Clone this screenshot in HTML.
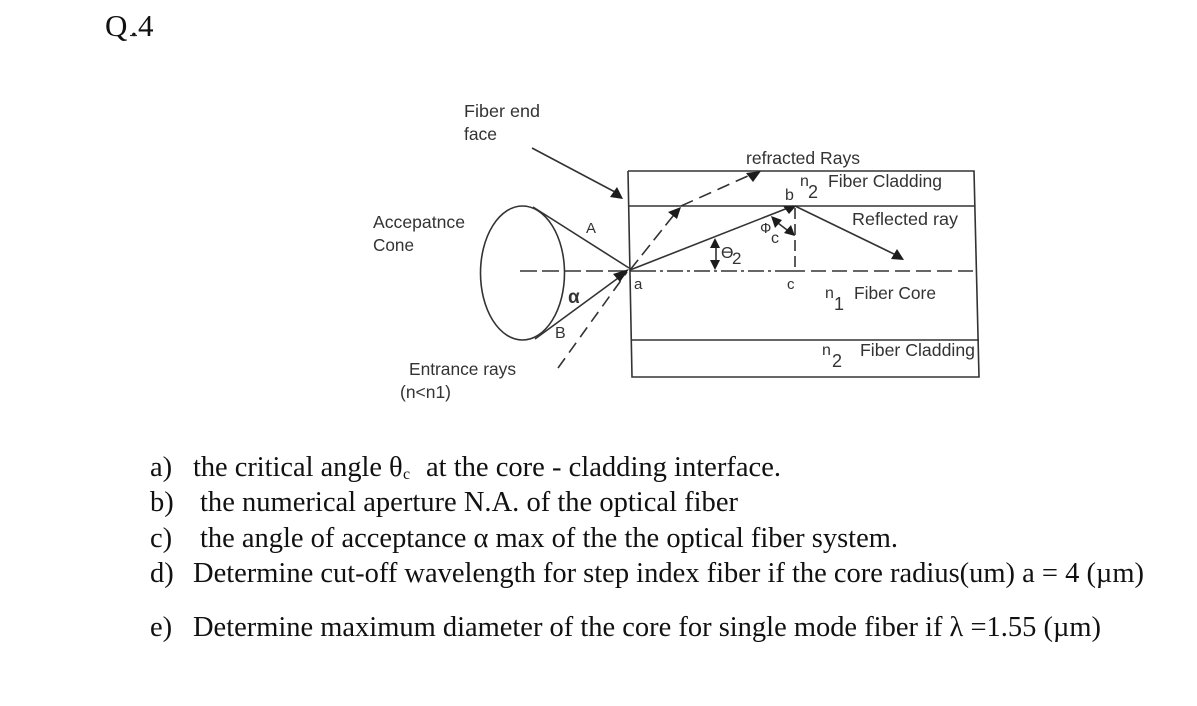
<!DOCTYPE html>
<html>
<head>
<meta charset="utf-8">
<style>
html,body{margin:0;padding:0;background:#fff;width:1197px;height:706px;overflow:hidden}
svg{display:block;filter:blur(0.35px)}
.d{font-family:"Liberation Sans",sans-serif;font-size:17.5px;fill:#333}
.s{font-family:"Liberation Serif",serif;font-size:28.5px;fill:#111}
</style>
</head>
<body>
<svg width="1197" height="706" viewBox="0 0 1197 706" xmlns="http://www.w3.org/2000/svg">
<rect width="1197" height="706" fill="#fff"/>
<text x="105 130 138" y="36" font-family="Liberation Serif,serif" font-size="31" fill="#111">Q.4</text>
<path d="M130 35.5H137" stroke="#222" stroke-width="1.2"/>

<g fill="none" stroke="#333" stroke-width="1.6">
  <ellipse cx="522.5" cy="273" rx="42" ry="67"/>
  <path d="M533 207L629 268"/>
  <path d="M535 339L625 273"/>
  <path d="M532 148L615 192"/>
  <path d="M628 171H974L979 377H632L628 171"/>
  <path d="M628 206H975"/>
  <path d="M632 340H979"/>
  <path d="M630 270L793 206"/>
  <path d="M795 206L896 255"/>
  <path d="M520 271H640" stroke-dasharray="17 5"/>
  <path d="M640 271H790" stroke-dasharray="16 4 3 4"/>
  <path d="M790 271H975" stroke-dasharray="15 6"/>
  <path d="M558 368L627 272" stroke-dasharray="12 7"/>
  <path d="M630 270L677 211" stroke-dasharray="13 6"/>
  <path d="M681 206L750 175" stroke-dasharray="13 7"/>
  <path d="M795 208V270" stroke-dasharray="11 5"/>
  <path d="M716 243V265"/>
  <path d="M774 220L791 233"/>
</g>
<g fill="#1c1c1c">
  <path d="M623 199L610 197L617 187Z"/>
  <path d="M629 269L620 282L613 274Z"/>
  <path d="M681 207L677 219L668 212Z"/>
  <path d="M761 171L753 182L746 173Z"/>
  <path d="M789 214L783 206H796Z"/>
  <path d="M904 260L891 259L897 249Z"/>
  <path d="M715 238L720 248H710Z"/>
  <path d="M715 270L710 260H720Z"/>
  <path d="M771 216L782 220L775 228Z"/>
  <path d="M795 236L784 233L791 225Z"/>
</g>

<text class="d" x="464" y="117" textLength="76" lengthAdjust="spacingAndGlyphs">Fiber end</text>
<text class="d" x="464" y="140" textLength="33" lengthAdjust="spacingAndGlyphs">face</text>
<text class="d" x="373" y="228" textLength="92" lengthAdjust="spacingAndGlyphs">Accepatnce</text>
<text class="d" x="373" y="251" textLength="41" lengthAdjust="spacingAndGlyphs">Cone</text>
<text class="d" x="586" y="233" style="font-size:15px">A</text>
<text class="d" x="555" y="338" style="font-size:16px">B</text>
<text class="d" x="568" y="303" style="font-size:19px;font-weight:bold">α</text>
<text class="d" x="634" y="289" style="font-size:15px">a</text>
<text class="d" x="409" y="375" textLength="107" lengthAdjust="spacingAndGlyphs">Entrance rays</text>
<text class="d" x="400" y="398" textLength="51" lengthAdjust="spacingAndGlyphs">(n&lt;n1)</text>
<text class="d" x="746" y="164" textLength="114" lengthAdjust="spacingAndGlyphs">refracted Rays</text>
<text class="d" x="785" y="200" style="font-size:16px">b</text>
<text class="d" x="800" y="186" style="font-size:16px">n</text>
<text class="d" x="808" y="198" style="font-size:18px">2</text>
<text class="d" x="828" y="187" textLength="114" lengthAdjust="spacingAndGlyphs">Fiber Cladding</text>
<text class="d" x="852" y="225" textLength="106" lengthAdjust="spacingAndGlyphs">Reflected ray</text>
<text class="d" x="721" y="258" style="font-size:16px">ϴ</text>
<text class="d" x="732" y="264" style="font-size:17px">2</text>
<text class="d" x="760" y="233" style="font-size:15px">Ф</text>
<text class="d" x="771" y="243" style="font-size:16px">c</text>
<text class="d" x="787" y="289" style="font-size:15px">c</text>
<text class="d" x="825" y="298" style="font-size:16px">n</text>
<text class="d" x="834" y="310" style="font-size:18px">1</text>
<text class="d" x="854" y="299" textLength="82" lengthAdjust="spacingAndGlyphs">Fiber Core</text>
<text class="d" x="822" y="355" style="font-size:16px">n</text>
<text class="d" x="832" y="367" style="font-size:18px">2</text>
<text class="d" x="860" y="356" textLength="115" lengthAdjust="spacingAndGlyphs">Fiber Cladding</text>

<text class="s" x="150" y="476">a)</text>
<text class="s" x="193" y="476" textLength="189" lengthAdjust="spacingAndGlyphs">the critical angle</text>
<text class="s" x="389" y="476">θ</text>
<text class="s" x="403" y="479" style="font-size:16px">c</text>
<text class="s" x="426" y="476" textLength="355" lengthAdjust="spacingAndGlyphs">at the core - cladding interface.</text>
<text class="s" x="150" y="511">b)</text>
<text class="s" x="200" y="511" textLength="538" lengthAdjust="spacingAndGlyphs">the numerical aperture N.A. of the optical fiber</text>
<text class="s" x="150" y="547">c)</text>
<text class="s" x="200" y="547" textLength="698" lengthAdjust="spacingAndGlyphs">the angle of acceptance α max of the the optical fiber system.</text>
<text class="s" x="150" y="582">d)</text>
<text class="s" x="193" y="582" textLength="951" lengthAdjust="spacingAndGlyphs">Determine cut-off wavelength for step index fiber if the core radius(um) a = 4 (µm)</text>
<text class="s" x="150" y="636">e)</text>
<text class="s" x="193" y="636" textLength="908" lengthAdjust="spacingAndGlyphs">Determine maximum diameter of the core for single mode fiber if λ =1.55 (µm)</text>
</svg>
</body>
</html>
